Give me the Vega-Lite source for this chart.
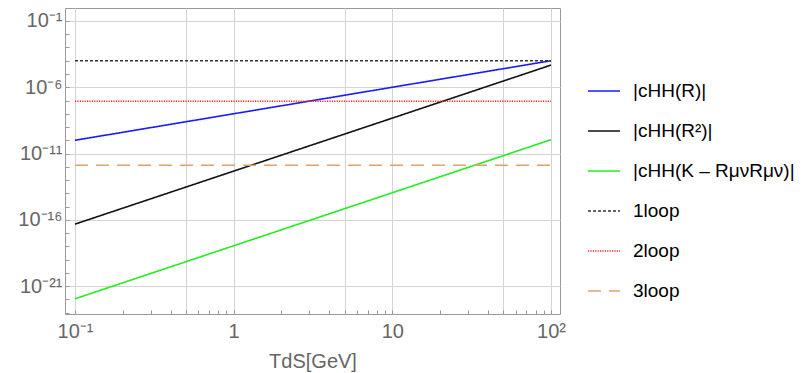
{
  "$schema": "https://vega.github.io/schema/vega-lite/v6.json",
  "width": 495,
  "height": 306,
  "padding": {"left": 17, "top": 8, "right": 5, "bottom": 5},
  "background": "white",
  "config": {
    "font": "Liberation Sans",
    "view": {"stroke": "#999999", "strokeWidth": 1},
    "legend": {
      "orient": "none",
      "legendX": 522,
      "legendY": 66,
      "title": null,
      "symbolType": "stroke",
      "symbolSize": 1024,
      "symbolStrokeWidth": 1.5,
      "labelFontSize": 19,
      "labelFont": "Liberation Sans",
      "labelColor": "#000000",
      "labelOffset": 12,
      "rowPadding": 13,
      "labelLimit": 300
    }
  },
  "data": {
    "values": [
      {"T": 0.1, "c": 1e-10, "series": "|cHH(R)|"},
      {"T": 1, "c": 1e-8, "series": "|cHH(R)|"},
      {"T": 10, "c": 1e-6, "series": "|cHH(R)|"},
      {"T": 100, "c": 1e-4, "series": "|cHH(R)|"},
      {"T": 0.1, "c": 4.7e-17, "series": "|cHH(R²)|"},
      {"T": 1, "c": 4.7e-13, "series": "|cHH(R²)|"},
      {"T": 10, "c": 4.7e-9, "series": "|cHH(R²)|"},
      {"T": 100, "c": 4.7e-5, "series": "|cHH(R²)|"},
      {"T": 0.1, "c": 1.1e-22, "series": "|cHH(K – RμνRμν)|"},
      {"T": 1, "c": 1.1e-18, "series": "|cHH(K – RμνRμν)|"},
      {"T": 10, "c": 1.1e-14, "series": "|cHH(K – RμνRμν)|"},
      {"T": 100, "c": 1.1e-10, "series": "|cHH(K – RμνRμν)|"},
      {"T": 0.1, "c": 1e-4, "series": "1loop"},
      {"T": 100, "c": 1e-4, "series": "1loop"},
      {"T": 0.1, "c": 8.9e-8, "series": "2loop"},
      {"T": 100, "c": 8.9e-8, "series": "2loop"},
      {"T": 0.1, "c": 1.3e-12, "series": "3loop"},
      {"T": 100, "c": 1.3e-12, "series": "3loop"}
    ]
  },
  "mark": {"type": "line", "strokeWidth": 1.6, "clip": true},
  "encoding": {
    "x": {
      "field": "T",
      "type": "quantitative",
      "scale": {"type": "log", "domain": [0.0865, 114], "nice": false, "zero": false},
      "axis": {
        "title": "TdS[GeV]",
        "titleFont": "Liberation Sans",
        "titleFontSize": 20,
        "titleFontWeight": "normal",
        "titleColor": "#666666",
        "titlePadding": 10,
        "values": [0.1, 0.2, 0.3, 0.4, 0.5, 0.6, 0.7, 0.8, 0.9, 1, 2, 3, 4, 5, 6, 7, 8, 9, 10, 20, 30, 40, 50, 60, 70, 80, 90, 100],
        "labelExpr": "datum.value == 0.1 ? '10⁻¹' : datum.value == 1 ? '1' : datum.value == 10 ? '10' : datum.value == 100 ? '10²' : ''",
        "labelFont": "Liberation Sans",
        "labelFontSize": 20,
        "labelColor": "#666666",
        "labelPadding": 11,
        "labelFlush": false,
        "labelOverlap": false,
        "domain": false,
        "tickColor": "#999999",
        "tickSize": -4,
        "grid": true,
        "gridColor": "#d4d4d4",
        "gridOpacity": {"condition": {"test": "indexof([0.1, 0.5, 1, 5, 10, 50, 100], datum.value) >= 0", "value": 1}, "value": 0}
      }
    },
    "y": {
      "field": "c",
      "type": "quantitative",
      "scale": {"type": "log", "domain": [7.8e-24, 0.955], "nice": false, "zero": false},
      "axis": {
        "title": null,
        "values": [1e-23, 1e-22, 1e-21, 1e-20, 1e-19, 1e-18, 1e-17, 1e-16, 1e-15, 1e-14, 1e-13, 1e-12, 1e-11, 1e-10, 1e-9, 1e-8, 1e-7, 1e-6, 1e-5, 1e-4, 1e-3, 1e-2, 1e-1],
        "labelExpr": "datum.value == 1e-1 ? '10⁻¹' : datum.value == 1e-6 ? '10⁻⁶' : datum.value == 1e-11 ? '10⁻¹¹' : datum.value == 1e-16 ? '10⁻¹⁶' : datum.value == 1e-21 ? '10⁻²¹' : ''",
        "labelFont": "Liberation Sans",
        "labelFontSize": 20,
        "labelColor": "#666666",
        "labelPadding": 7,
        "labelOverlap": false,
        "labelFlush": false,
        "domain": false,
        "tickColor": "#999999",
        "tickSize": -4,
        "grid": true,
        "gridColor": "#d4d4d4",
        "gridOpacity": {"condition": {"test": "indexof([1e-1, 1e-6, 1e-11, 1e-16, 1e-21], datum.value) >= 0", "value": 1}, "value": 0}
      }
    },
    "color": {
      "field": "series",
      "type": "nominal",
      "scale": {
        "domain": ["|cHH(R)|", "|cHH(R²)|", "|cHH(K – RμνRμν)|", "1loop", "2loop", "3loop"],
        "range": ["#1a1aff", "#111111", "#22ee22", "#333333", "#ff2020", "#dda26c"]
      }
    },
    "strokeDash": {
      "field": "series",
      "type": "nominal",
      "scale": {
        "domain": ["|cHH(R)|", "|cHH(R²)|", "|cHH(K – RμνRμν)|", "1loop", "2loop", "3loop"],
        "range": [[1, 0], [1, 0], [1, 0], [3, 2], [1.2, 1.2], [13, 8]]
      }
    }
  }
}
